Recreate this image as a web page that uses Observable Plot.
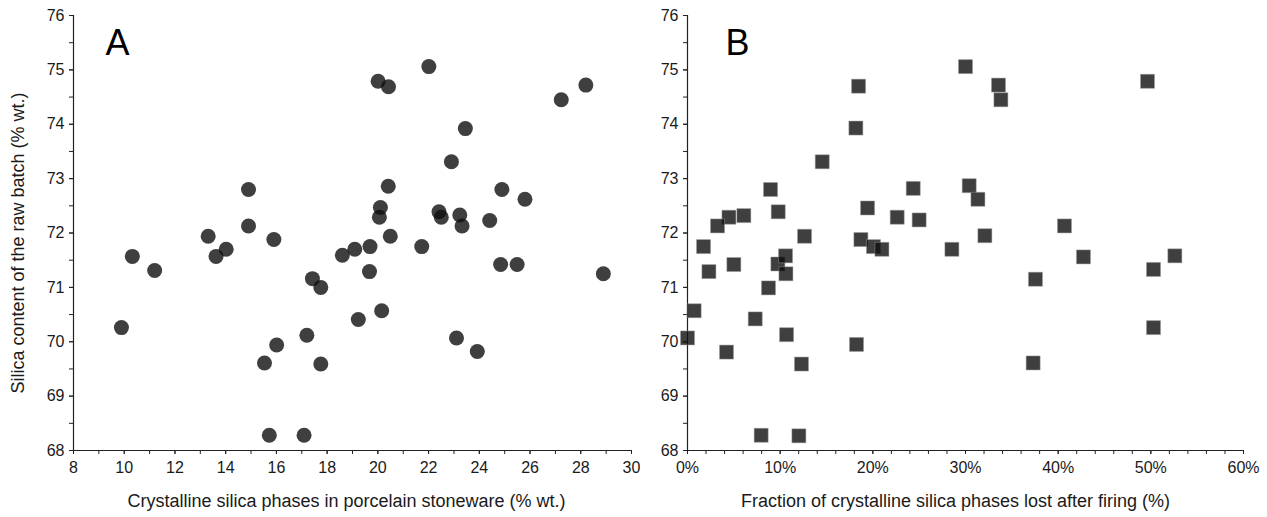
<!DOCTYPE html>
<html>
<head>
<meta charset="utf-8">
<script src="https://cdn.jsdelivr.net/npm/d3@7"></script>
<script src="https://cdn.jsdelivr.net/npm/@observablehq/plot@0.6"></script>
<style>
  html, body { margin: 0; padding: 0; background: #fff; }
  #wrap { display: flex; width: 1267px; height: 517px; }
</style>
</head>
<body>
<div id="wrap"></div>
<script>
// Panel A: crystalline silica phases (% wt.) vs silica content of raw batch (% wt.)
const crystallineA = [9.89, 10.32, 11.20, 13.31, 13.62, 14.02, 14.90, 14.90, 15.90, 17.42,
  17.75, 17.20, 16.01, 15.53, 17.75, 15.72, 17.09, 18.60, 19.09, 19.69,
  20.49, 21.73, 19.67, 19.23, 20.15, 23.10, 23.92, 24.84, 25.49, 28.89,
  22.01, 20.01, 20.42, 28.20, 27.23, 23.45, 22.90, 20.41, 24.89, 25.80,
  20.10, 20.06, 22.41, 22.50, 23.23, 23.32, 24.41];
const silicaA = [70.26, 71.57, 71.31, 71.94, 71.57, 71.70, 72.13, 72.80, 71.88, 71.16,
  71.00, 70.12, 69.94, 69.61, 69.59, 68.28, 68.28, 71.59, 71.70, 71.75,
  71.94, 71.75, 71.29, 70.41, 70.57, 70.07, 69.82, 71.42, 71.42, 71.25,
  75.06, 74.79, 74.69, 74.72, 74.45, 73.92, 73.31, 72.86, 72.80, 72.62,
  72.47, 72.29, 72.39, 72.29, 72.33, 72.13, 72.23];

// Panel B: fraction of crystalline silica phases lost after firing (%) vs silica content
const lostB = [18.46, 18.17, 14.54, 8.96, 24.36, 19.43, 9.79, 6.08, 4.47, 3.24,
  22.63, 25.00, 12.63, 18.71, 1.73, 20.07, 20.98, 28.53, 30.00, 33.56,
  33.82, 49.64, 30.40, 31.34, 32.09, 40.68, 42.73, 52.59, 50.29, 37.55,
  50.29, 37.30, 2.31, 5.00, 9.75, 10.58, 10.62, 8.74, 0.72, 0.00,
  7.31, 10.69, 4.21, 12.30, 18.24, 7.95, 12.02];
const silicaB = [74.70, 73.93, 73.31, 72.80, 72.82, 72.46, 72.39, 72.32, 72.29, 72.13,
  72.29, 72.24, 71.94, 71.88, 71.75, 71.75, 71.70, 71.70, 75.06, 74.72,
  74.45, 74.79, 72.87, 72.62, 71.95, 72.13, 71.56, 71.58, 71.33, 71.15,
  70.26, 69.61, 71.29, 71.42, 71.43, 71.58, 71.25, 70.99, 70.57, 70.07,
  70.42, 70.13, 69.81, 69.59, 69.95, 68.28, 68.27];

const yMajorTicks = [68, 69, 70, 71, 72, 73, 74, 75, 76];
const yMinorTicks = d3.range(68, 76.01, 0.5);
const xMajorTicksA = [8, 10, 12, 14, 16, 18, 20, 22, 24, 26, 28, 30];
const xMinorTicksA = d3.range(8, 30.01, 1);
const xMajorTicksB = [0, 10, 20, 30, 40, 50, 60];
const xMinorTicksB = d3.range(0, 60.01, 2);

const titleAX = "Crystalline silica phases in porcelain stoneware (% wt.)";
const titleAY = "Silica content of the raw batch (% wt.)";
const titleBX = "Fraction of crystalline silica phases lost after firing (%)";

const dataA = crystallineA.map((x, i) => ({x, y: silicaA[i]}));
const dataB = lostB.map((x, i) => ({x, y: silicaB[i]}));

const axisColor = "#222";
const textColor = "#1a1a1a";
const font = "'Liberation Sans', Arial, sans-serif";

function panel({data, width, marginLeft, marginRight, xDomain, xMajor, xMinor, xFormat, symbol, r, letter, letterDx, xTitle, xTitleDx, yTitle}) {
  const marks = [
    Plot.axisY({ticks: yMinorTicks, tickFormat: () => "", tickSize: 4, stroke: axisColor, label: null}),
    Plot.axisY({ticks: yMajorTicks, tickSize: 4, tickPadding: 5, stroke: axisColor, label: null}),
    Plot.axisX({ticks: xMinor, tickFormat: () => "", tickSize: 4, stroke: axisColor, label: null}),
    Plot.axisX({ticks: xMajor, tickFormat: xFormat, tickSize: 4, tickPadding: 7, stroke: axisColor, label: null}),
    Plot.ruleX([xDomain[0]], {stroke: axisColor, strokeWidth: 1.2}),
    Plot.ruleY([68], {stroke: axisColor, strokeWidth: 1.2}),
    Plot.dot(data, {x: "x", y: "y", r, symbol, fill: "#0f0f0f", fillOpacity: 0.8,
      stroke: symbol === "square" ? "#9a9a9a" : "none", strokeWidth: 0.8, strokeOpacity: 0.6}),
    Plot.text([letter], {frameAnchor: "top-left", text: d => d, dx: letterDx, dy: 14,
      fontSize: 36, textAnchor: "start", lineAnchor: "top", fill: "#000"}),
    Plot.text([xTitle], {frameAnchor: "bottom", text: d => d, dx: xTitleDx, dy: 56,
      fontSize: 18, textAnchor: "middle", fill: textColor})
  ];
  if (yTitle) {
    marks.push(Plot.text([yTitle], {frameAnchor: "left", text: d => d, dx: -55, dy: 10, rotate: -90,
      fontSize: 18, textAnchor: "middle", fill: textColor}));
  }
  return Plot.plot({
    width, height: 517,
    marginTop: 15, marginBottom: 67, marginLeft, marginRight,
    style: {fontFamily: font, fontSize: "16px", color: textColor, background: "#fff", overflow: "visible"},
    x: {domain: xDomain},
    y: {domain: [68, 76]},
    marks
  });
}

const wrap = document.getElementById("wrap");
wrap.append(panel({
  data: dataA, width: 640, marginLeft: 73, marginRight: 9,
  xDomain: [8, 30], xMajor: xMajorTicksA, xMinor: xMinorTicksA, xFormat: d => String(d),
  symbol: "circle", r: 7.5, letter: "A", letterDx: 32, xTitle: titleAX, xTitleDx: -6, yTitle: titleAY
}));
wrap.append(panel({
  data: dataB, width: 627, marginLeft: 47, marginRight: 24,
  xDomain: [0, 60], xMajor: xMajorTicksB, xMinor: xMinorTicksB, xFormat: d => d + "%",
  symbol: "square", r: 7.9, letter: "B", letterDx: 38, xTitle: titleBX, xTitleDx: -10, yTitle: null
}));
</script>
</body>
</html>
